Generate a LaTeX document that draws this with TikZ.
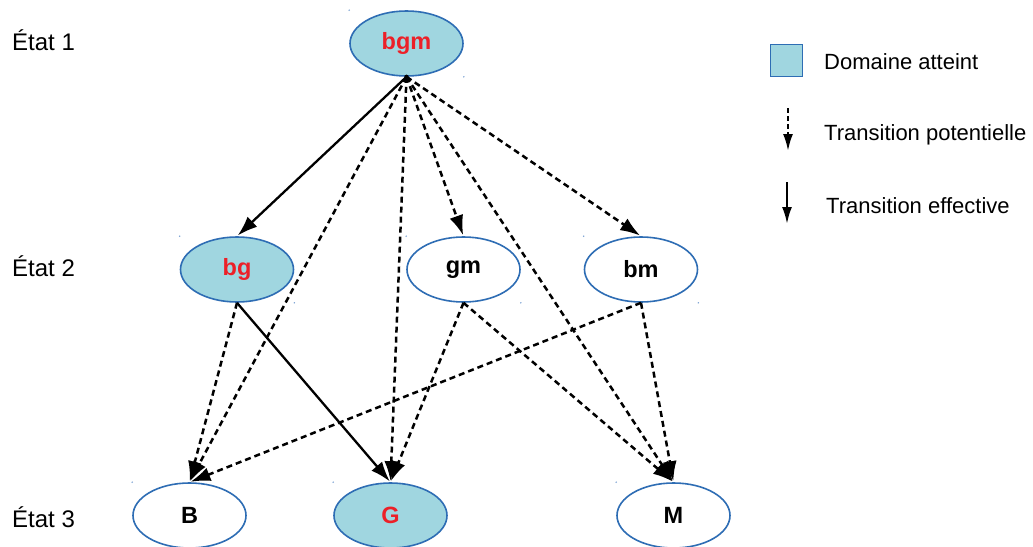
\documentclass[tikz,border=0pt]{standalone}
\usepackage{fontspec}
\setmainfont{Liberation Sans}
\usetikzlibrary{arrows.meta,shapes.geometric}
\definecolor{fillblue}{RGB}{160,214,224}
\definecolor{edgeblue}{RGB}{46,109,180}
\definecolor{txtred}{RGB}{236,32,40}
\definecolor{dotblue}{RGB}{120,160,210}
\begin{document}
\begin{tikzpicture}[x=1pt,y=-1pt]
\tikzset{
 st/.style={ellipse, draw=edgeblue, line width=1.6pt, minimum width=113pt, minimum height=65pt, inner sep=0pt, font=\fontsize{23.5}{28}\selectfont\bfseries},
 reached/.style={st, fill=fillblue, text=txtred},
 unreached/.style={st, fill=white, text=black},
 pot/.style={line width=2.5pt, dash pattern=on 6pt off 4pt, -{Latex[length=20pt,width=14pt]}, shorten >=1pt},
 eff/.style={line width=2.3pt, -{Latex[length=20pt,width=14pt]}, shorten >=1pt},
 potleg/.style={line width=2.3pt, dash pattern=on 5pt off 3pt, -{Latex[length=17pt,width=10pt]}},
 effleg/.style={line width=2.3pt, -{Latex[length=17pt,width=10pt]}},
 lbl/.style={anchor=base west, font=\fontsize{22}{26}\selectfont, inner sep=0pt},
 rowlbl/.style={anchor=base west, font=\fontsize{24}{28}\selectfont, inner sep=0pt},
 cornerdot/.style={fill=dotblue}
}
\useasboundingbox (0,0) rectangle (1033,546);
\fill[white] (0,0) rectangle (1033,546);

% row labels
\node[rowlbl] (e1) at (12,50) {État 1};
\node[rowlbl] (e2) at (12,276) {État 2};
\node[rowlbl] (e3) at (12,527) {État 3};

% states
\node[reached] (bgm) at (406.5,43.5) {bgm};
\node[reached] (bg) at (237,269.5) {bg};
\node[unreached] (gm) at (463.5,269.5) {gm};
\node[unreached] (bm) at (641,269.5) {bm};
\node[unreached] (B) at (189.5,515.5) {B};
\node[reached] (G) at (390.5,515.5) {G};
\node[unreached] (M) at (673.5,515.5) {M};

% corner dots
\foreach \n in {bgm,bg,gm,bm,B,G,M}{
  \fill[cornerdot] (\n.west |- \n.north) circle (0.8pt);
  \fill[cornerdot] (\n.east |- \n.south) circle (0.8pt);
}

% transitions
\draw[eff] (bgm.south) -- (bg.north);
\draw[pot] (bgm.south) -- (B.north);
\draw[pot] (bgm.south) -- (G.north);
\draw[pot] (bgm.south) -- (gm.north);
\draw[pot] (bgm.south) -- (bm.north);
\draw[pot] (bgm.south) -- (M.north);
\fill (bgm.south) circle (2.2pt);

\draw[pot] (bg.south) -- (B.north);
\draw[eff] (bg.south) -- (G.north);
\draw[pot] (gm.south) -- (G.north);
\draw[pot] (gm.south) -- (M.north);
\draw[pot] (bm.south) -- (B.north);
\draw[pot] (bm.south) -- (M.north);

% legend
\node[draw=edgeblue, fill=fillblue, minimum size=32pt, inner sep=0pt, line width=1pt] (sq) at (786.5,60) {};
\node[lbl] (l1) at (824,69) {Domaine atteint};
\coordinate (p1) at (788,108);
\coordinate (p2) at (788,151);
\draw[potleg] (p1) -- (p2);
\node[lbl] (l2) at (824,140) {Transition potentielle};
\coordinate (q1) at (787,182);
\coordinate (q2) at (787,224);
\draw[effleg] (q1) -- (q2);
\node[lbl] (l3) at (826,213) {Transition effective};
\end{tikzpicture}
\end{document}
